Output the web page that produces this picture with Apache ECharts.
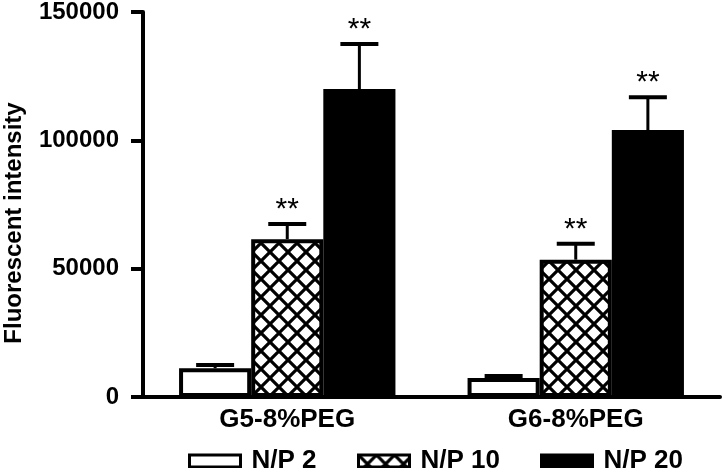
<!DOCTYPE html>
<html>
<head>
<meta charset="utf-8">
<script src="https://cdn.jsdelivr.net/npm/echarts@6/dist/echarts.min.js"></script>
<style>
  html, body { margin: 0; padding: 0; background: #fff; }
  #chart { width: 728px; height: 468px; }
</style>
</head>
<body>
<div id="chart"></div>
<script>
// data
const categories = ["G5-8%PEG", "G6-8%PEG"];
const seriesNames = ["N/P 2", "N/P 10", "N/P 20"];
const np2 = [11200, 7400];
const np10 = [61500, 53500];
const np20 = [120000, 104000];
const np2Err = [1300, 800];
const np10Err = [5900, 6200];
const np20Err = [17500, 12800];
const np2Sig = ["", ""];
const np10Sig = ["**", "**"];
const np20Sig = ["**", "**"];
const yTicks = [0, 50000, 100000, 150000];

const font = "Arial, 'Liberation Sans', sans-serif";

// crosshatch fill
function hatch() {
  const s = 18;
  const c = document.createElement("canvas");
  c.width = s;
  c.height = s;
  const g = c.getContext("2d");
  g.fillStyle = "#fff";
  g.fillRect(0, 0, s, s);
  g.strokeStyle = "#000";
  g.lineWidth = 3.2;
  for (const o of [-s, 0, s]) {
    g.beginPath();
    g.moveTo(o, 0);
    g.lineTo(o + s, s);
    g.moveTo(o + s, 0);
    g.lineTo(o, s);
    g.stroke();
  }
  return c;
}

const fills = ["#fff", { image: hatch(), repeat: "repeat" }, "#000"];
const values = [np2, np10, np20];
const errs = [np2Err, np10Err, np20Err];
const sigs = [np2Sig, np10Sig, np20Sig];

const barSeries = seriesNames.map((name, i) => ({
  name: name,
  type: "bar",
  data: values[i],
  barGap: "0%",
  barCategoryGap: "25%",
  itemStyle: { color: fills[i], borderColor: "#000", borderWidth: 4 },
  z: 2,
}));

// error bars + significance marks
const errData = [];
seriesNames.forEach((n, s) => {
  categories.forEach((c, ci) => {
    errData.push([ci, s, values[s][ci], errs[s][ci], sigs[s][ci]]);
  });
});

const errSeries = {
  type: "custom",
  data: errData,
  z: 3,
  silent: true,
  renderItem(params, api) {
    const ci = api.value(0);
    const s = api.value(1);
    const v = api.value(2);
    const e = api.value(3);
    const sig = errData[params.dataIndex][4];
    const band = api.size([1, 0])[0];
    const bw = (band * 0.75) / 3;
    const base = api.coord([ci, v]);
    const x = base[0] + (s - 1) * bw;
    const yTop = api.coord([ci, v + e])[1];
    const capW = 38;
    const children = [
      {
        type: "line",
        shape: { x1: x, y1: base[1], x2: x, y2: yTop },
        style: { stroke: "#000", lineWidth: 3 },
      },
      {
        type: "line",
        shape: { x1: x - capW / 2, y1: yTop, x2: x + capW / 2, y2: yTop },
        style: { stroke: "#000", lineWidth: 4 },
      },
    ];
    if (sig) {
      children.push({
        type: "text",
        x: x,
        y: yTop + 1,
        style: {
          text: sig,
          fill: "#000",
          font: "30px " + font,
          align: "center",
          verticalAlign: "bottom",
        },
      });
    }
    return { type: "group", children: children };
  },
};

// one legend per entry so each sits where the figure puts it
const legendLeft = [183, 352, 535];
const legends = seriesNames.map((name, i) => ({
  data: [name],
  left: legendLeft[i],
  top: 443,
  itemWidth: 51,
  itemHeight: 12,
  icon: "rect",
  itemStyle: { borderColor: "#000", borderWidth: 3 },
  textStyle: { fontFamily: font, fontWeight: "bold", fontSize: 26, color: "#000", padding: [0, 0, 0, 6] },
}));

const chart = echarts.init(document.getElementById("chart"));
chart.setOption({
  animation: false,
  backgroundColor: "#fff",
  grid: { left: 143, right: 8, top: 10, bottom: 71 },
  legend: legends,
  graphic: [
    {
      type: "text",
      x: 14,
      y: 223,
      rotation: Math.PI / 2,
      style: {
        text: "Fluorescent intensity",
        font: "bold 24px " + font,
        fill: "#000",
        align: "center",
        verticalAlign: "middle",
      },
    },
  ],
  xAxis: {
    type: "category",
    data: categories,
    axisLine: { lineStyle: { color: "#000", width: 4, cap: "round" } },
    axisTick: { show: false },
    axisLabel: { color: "#000", fontFamily: font, fontWeight: "bold", fontSize: 26, margin: 10 },
  },
  yAxis: {
    type: "value",
    min: yTicks[0],
    max: yTicks[yTicks.length - 1],
    interval: yTicks[1] - yTicks[0],
    axisLine: { show: true, lineStyle: { color: "#000", width: 4, cap: "round" } },
    axisTick: { show: true, length: 12, lineStyle: { color: "#000", width: 4 } },
    splitLine: { show: false },
    axisLabel: {
      color: "#000",
      fontFamily: font,
      fontWeight: "bold",
      fontSize: 24,
      margin: 24,
      formatter: (v) => String(v),
    },
  },
  series: [...barSeries, errSeries],
});
</script>
</body>
</html>
